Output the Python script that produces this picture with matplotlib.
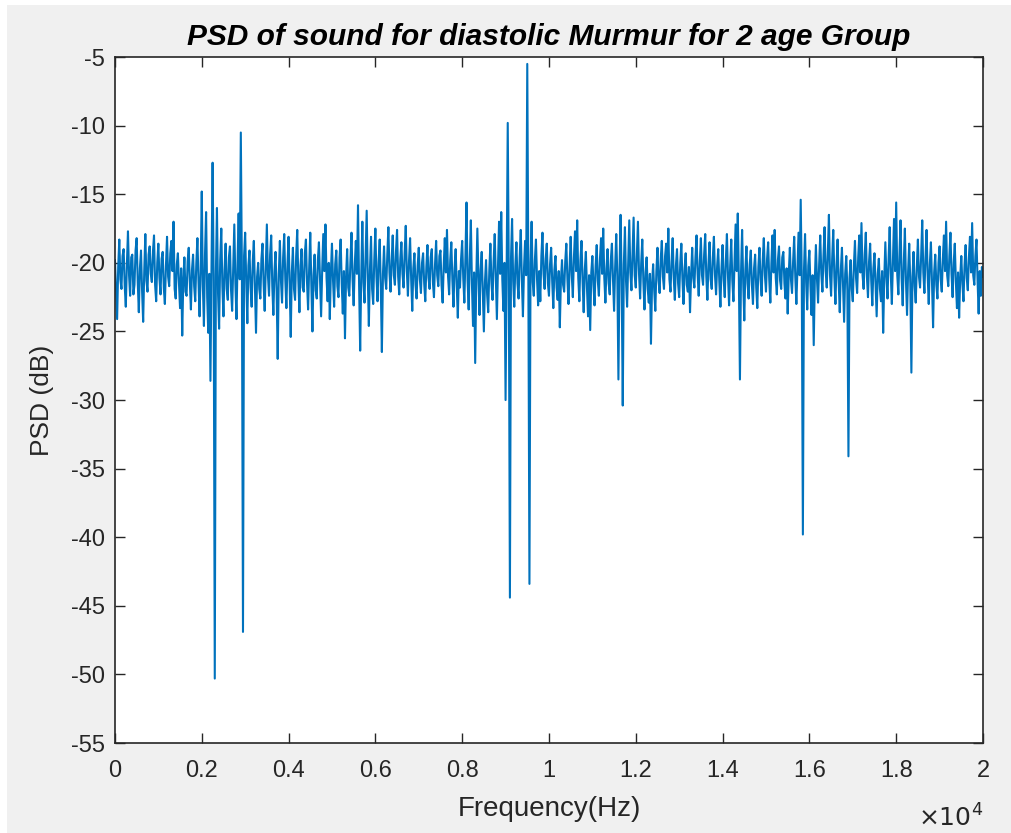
import numpy as np
import matplotlib.pyplot as plt
from matplotlib.patches import Rectangle

# PSD values (dB), 25 Hz apart, 0 .. 20000 Hz (one row = 1 kHz)
psd_db = [
    -19.8, -22.0, -24.1, -20.3, -18.3, -21.2, -21.9, -19.5, -19.0, -21.7, -23.2, -20.1, -17.7, -20.9, -22.4, -19.6, -19.4, -22.3, -21.6, -19.1, -18.2, -21.4, -23.6, -20.4, -19.1, -22.0, -24.3, -20.6, -17.9, -21.3, -22.1, -19.4, -18.8, -20.8, -21.4, -19.2, -18.0, -21.6, -22.8, -20.0,
    -18.6, -21.1, -22.3, -19.7, -19.2, -21.8, -23.0, -20.2, -18.1, -21.0, -21.7, -19.3, -18.4, -20.6, -17.0, -21.9, -22.6, -20.1, -19.3, -21.5, -23.3, -20.4, -25.3, -21.2, -19.6, -22.1, -22.4, -19.9, -18.9, -21.4, -23.4, -20.5, -19.4, -21.7, -22.8, -20.0, -18.2, -21.3, -23.9, -20.6,
    -14.8, -21.6, -24.6, -19.4, -16.3, -22.5, -25.1, -20.8, -28.6, -20.2, -12.7, -21.4, -50.3, -20.9, -16.0, -22.2, -24.8, -19.8, -17.5, -21.7, -23.9, -20.5, -18.6, -21.9, -22.7, -19.6, -18.8, -22.0, -23.5, -20.3, -17.2, -21.5, -24.1, -19.9, -16.4, -21.2, -10.5, -20.7, -46.9, -19.5,
    -17.8, -21.4, -24.4, -20.2, -19.1, -21.8, -23.2, -19.9, -18.4, -21.6, -25.1, -21.0, -20.0, -21.9, -22.6, -19.7, -18.6, -21.5, -23.5, -20.3, -17.2, -20.9, -22.4, -19.4, -18.0, -21.7, -23.8, -20.6, -19.2, -22.1, -27.0, -20.8, -18.4, -21.3, -22.9, -19.6, -17.9, -21.2, -23.3, -20.1,
    -18.1, -21.5, -25.4, -20.7, -18.9, -21.9, -22.7, -19.5, -17.6, -21.2, -23.6, -20.2, -19.0, -21.8, -22.1, -19.3, -18.3, -21.4, -23.4, -20.4, -17.8, -21.6, -25.0, -20.9, -19.4, -22.0, -22.6, -19.8, -18.5, -21.3, -23.9, -20.5, -17.9, -20.6, -17.2, -21.1, -22.8, -20.0, -24.1, -20.7,
    -18.6, -21.3, -23.2, -20.1, -19.1, -21.7, -22.5, -19.6, -18.3, -21.5, -23.7, -20.6, -25.5, -21.0, -19.0, -21.8, -22.4, -19.9, -17.8, -21.2, -23.1, -20.2, -18.4, -20.8, -15.8, -21.6, -26.4, -20.9, -17.0, -21.4, -22.9, -19.7, -16.2, -21.0, -24.6, -20.5, -18.1, -21.9, -23.0, -19.8,
    -17.5, -21.0, -22.8, -19.9, -18.3, -21.7, -26.5, -20.8, -18.8, -21.1, -21.9, -19.4, -17.4, -20.7, -22.1, -19.8, -18.0, -20.9, -21.6, -19.2, -17.6, -21.0, -22.3, -19.7, -18.5, -20.8, -21.8, -19.3, -17.3, -20.6, -22.4, -19.9, -18.2, -21.2, -23.5, -20.4, -19.3, -21.6, -22.6, -20.2,
    -18.9, -21.2, -22.2, -20.0, -19.3, -21.5, -22.8, -20.3, -18.7, -21.1, -21.9, -19.6, -19.0, -21.4, -22.5, -20.1, -18.4, -20.9, -21.7, -19.5, -19.1, -21.6, -22.9, -20.2, -18.2, -20.7, -17.6, -21.0, -22.3, -19.8, -18.5, -21.3, -23.2, -20.4, -19.0, -21.7, -24.0, -20.6, -21.8, -19.7,
    -18.4, -21.1, -22.9, -19.6, -15.6, -21.3, -23.4, -19.8, -16.9, -21.5, -24.6, -20.7, -27.3, -21.2, -17.5, -21.0, -23.8, -20.5, -19.2, -22.0, -25.0, -21.4, -19.8, -22.3, -23.6, -20.6, -18.6, -21.5, -22.7, -19.9, -17.9, -21.1, -24.1, -20.3, -17.0, -20.8, -16.3, -21.2, -23.5, -20.0,
    -30.0, -20.5, -9.8, -21.0, -44.4, -19.7, -16.8, -21.3, -23.2, -20.2, -18.5, -21.5, -22.6, -19.6, -17.6, -21.2, -23.9, -20.4, -18.4, -20.9, -5.5, -21.1, -43.4, -20.0, -17.0, -21.4, -22.4, -19.8, -18.3, -21.2, -23.1, -20.6, -22.8, -19.5, -17.8, -20.8, -21.9, -19.7, -18.6, -21.5,
    -22.4, -20.1, -18.9, -21.4, -23.3, -20.5, -19.5, -21.8, -22.7, -20.6, -24.7, -21.3, -19.8, -21.6, -22.1, -19.9, -18.6, -21.2, -23.0, -20.3, -18.1, -20.9, -22.5, -19.6, -17.7, -20.6, -16.9, -21.1, -22.8, -19.8, -18.4, -21.4, -23.6, -20.5, -19.2, -21.8, -23.9, -20.9, -24.9, -20.7,
    -19.5, -21.6, -23.1, -20.2, -18.7, -21.3, -22.4, -19.7, -18.2, -20.8, -17.5, -21.1, -22.9, -20.4, -19.0, -21.5, -22.3, -19.8, -18.6, -21.2, -23.5, -20.3, -17.9, -21.0, -28.5, -20.6, -16.5, -21.4, -30.4, -20.1, -17.4, -21.3, -23.2, -19.9, -16.9, -20.7, -22.0, -19.4, -16.7, -20.9,
    -21.8, -19.3, -17.0, -20.8, -22.6, -20.0, -18.3, -21.4, -23.4, -20.7, -19.6, -21.9, -22.9, -20.8, -25.9, -21.5, -20.1, -22.0, -23.5, -20.6, -18.9, -21.3, -22.2, -19.7, -18.4, -21.0, -21.9, -19.5, -18.6, -20.7, -17.5, -21.2, -22.1, -19.9, -18.2, -21.1, -22.7, -20.2, -19.0, -21.5,
    -22.5, -20.0, -18.6, -21.2, -23.0, -20.4, -19.3, -21.6, -22.1, -20.3, -23.6, -20.9, -18.9, -21.1, -21.8, -19.6, -18.0, -20.8, -22.4, -19.9, -18.2, -20.9, -21.6, -19.4, -17.9, -21.0, -22.7, -20.1, -18.5, -21.2, -21.9, -19.6, -18.1, -20.9, -22.3, -20.2, -19.0, -21.4, -23.2, -20.4,
    -18.7, -21.2, -22.5, -19.8, -17.9, -21.0, -23.1, -20.2, -18.3, -21.3, -22.8, -20.0, -17.2, -20.6, -16.4, -21.1, -28.5, -20.7, -17.6, -21.4, -24.2, -20.5, -18.8, -21.5, -22.6, -20.1, -19.1, -21.6, -23.0, -20.4, -19.4, -21.8, -23.3, -20.3, -18.9, -21.2, -22.4, -19.8, -18.2, -20.9,
    -22.1, -19.7, -18.5, -21.2, -22.9, -20.0, -18.0, -20.7, -17.6, -21.1, -22.3, -19.8, -18.8, -21.3, -21.9, -19.6, -19.2, -21.5, -22.6, -20.4, -23.7, -20.8, -18.9, -21.2, -22.2, -19.9, -18.1, -21.0, -23.0, -20.3, -17.8, -20.9, -15.4, -21.3, -39.8, -20.6, -17.9, -21.4, -23.4, -20.2,
    -19.1, -21.7, -23.8, -20.9, -26.0, -21.3, -18.7, -21.2, -22.9, -20.1, -18.0, -20.8, -22.1, -19.5, -17.4, -20.6, -21.8, -19.3, -16.5, -20.9, -22.4, -19.7, -17.6, -21.0, -23.0, -20.2, -18.3, -21.4, -23.6, -20.5, -18.9, -21.6, -24.3, -20.8, -19.5, -22.0, -34.1, -21.1, -19.8, -21.9,
    -22.8, -20.2, -18.4, -21.1, -22.2, -19.6, -18.0, -20.7, -17.1, -20.9, -21.9, -19.4, -17.8, -21.0, -22.5, -19.9, -18.6, -21.3, -23.1, -20.4, -19.3, -21.7, -23.9, -20.8, -19.7, -21.9, -22.8, -20.6, -25.1, -21.2, -18.5, -21.0, -22.6, -19.7, -17.4, -20.8, -23.0, -19.9, -16.8, -20.6,
    -15.6, -20.9, -22.3, -19.4, -16.9, -21.1, -23.1, -20.0, -17.5, -21.3, -23.8, -20.6, -18.6, -21.5, -28.0, -21.0, -19.2, -21.7, -22.9, -20.3, -18.3, -21.0, -21.8, -19.5, -16.9, -20.7, -22.2, -19.6, -17.6, -20.9, -23.0, -20.1, -18.5, -21.4, -24.7, -20.7, -19.4, -21.6, -22.6, -20.0,
    -18.8, -21.2, -22.1, -19.7, -18.0, -20.6, -17.0, -20.9, -21.7, -19.5, -17.8, -20.8, -22.5, -20.0, -18.6, -21.4, -23.3, -20.7, -24.0, -21.1, -19.5, -21.5, -22.8, -20.2, -18.7, -21.1, -22.0, -19.6, -18.1, -20.7, -17.1, -20.9, -21.6, -19.5, -18.3, -21.3, -23.7, -20.6, -22.4, -20.3,
    -21.0,
]
freq_hz = np.linspace(0, 20000, len(psd_db))

x_ticks = np.arange(0, 20001, 2000)
x_tick_labels = ['0', '0.2', '0.4', '0.6', '0.8', '1', '1.2', '1.4', '1.6', '1.8', '2']
y_ticks = np.arange(-55, -4, 5)

plt.rcParams['font.family'] = ['Liberation Sans', 'DejaVu Sans']
plt.rcParams['axes.unicode_minus'] = False

fig = plt.figure(figsize=(10.11, 8.33), dpi=100, facecolor='white')
# grey window area (screenshot has a thin white strip at left/top)
fig.patches.append(Rectangle((7 / 1011, 0), 1, 1 - 5 / 833, transform=fig.transFigure,
                             facecolor='#f0f0f0', edgecolor='none', zorder=-1))
ax = fig.add_axes([0.1137, 0.108, 0.8586, 0.8235])

ax.plot(freq_hz, psd_db, color='#0072BD', linewidth=1.5)

ax.set_xlim(0, 20000)
ax.set_ylim(-55, -5)
ax.set_xticks(x_ticks)
ax.set_xticklabels(x_tick_labels)
ax.set_yticks(y_ticks)

ax.tick_params(direction='in', length=7, width=1, colors='#262626',
               labelsize=17, top=True, right=True)
ax.tick_params(axis='x', pad=12)
ax.tick_params(axis='y', pad=7)
for s in ax.spines.values():
    s.set_color('#262626')
    s.set_linewidth(1.2)

ax.set_title('PSD of sound for diastolic Murmur for 2 age Group',
             fontsize=21.5, fontweight='bold', fontstyle='italic', pad=9)
ax.set_xlabel('Frequency(Hz)', fontsize=20, color='#262626')
ax.set_ylabel('PSD (dB)', fontsize=19, color='#262626')
ax.xaxis.set_label_coords(0.5, -0.077)
ax.yaxis.set_label_coords(-0.07, 0.5)
ax.text(1.0, -0.09, r'$\times10^4$', transform=ax.transAxes,
        ha='right', va='top', fontsize=18, color='#262626')

plt.savefig('out.png', dpi=100)
